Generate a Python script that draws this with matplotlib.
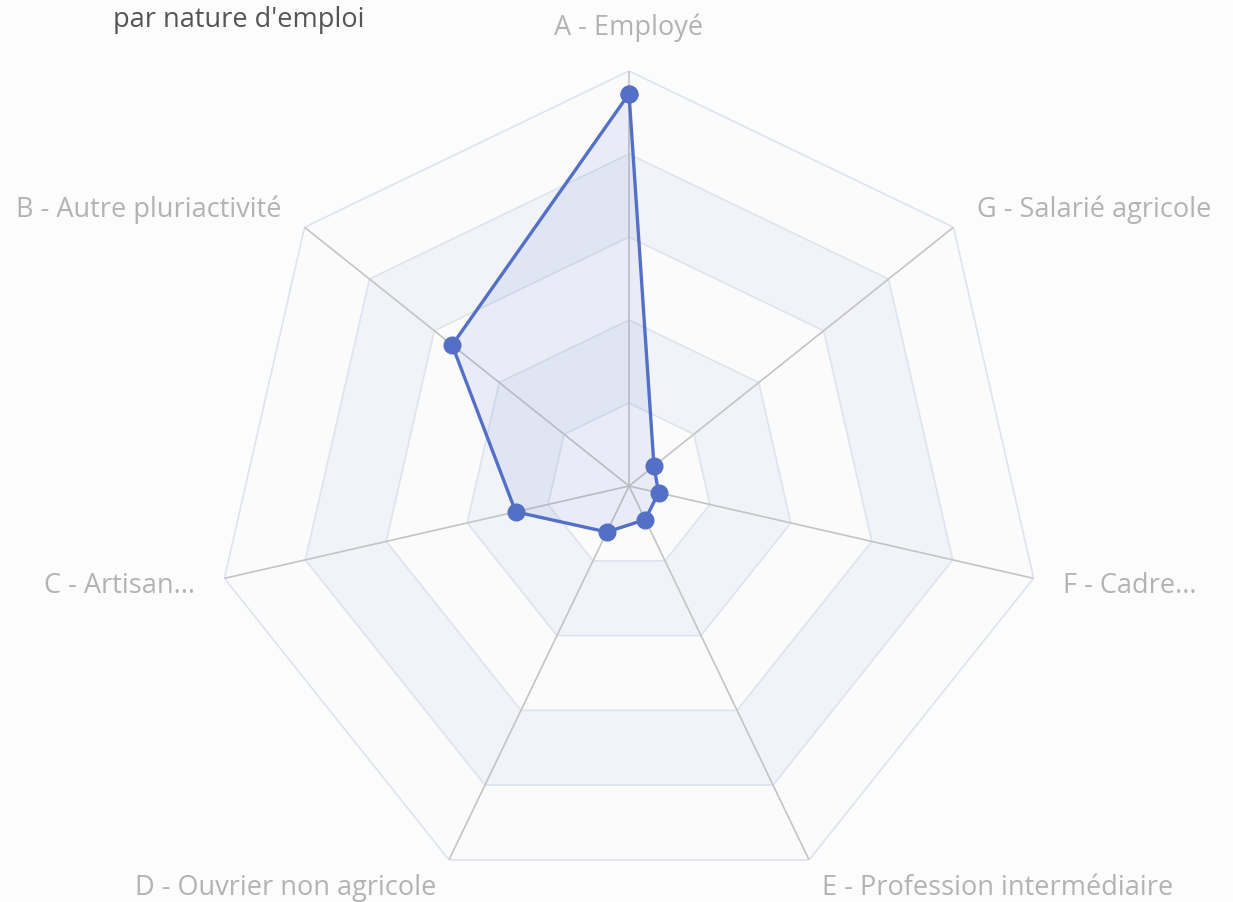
import numpy as np
import matplotlib
matplotlib.use("Agg")
import matplotlib.pyplot as plt

plt.rcParams['font.family'] = ['Open Sans', 'DejaVu Sans']

categories = ["A - Employé", "B - Autre pluriactivité", "C - Artisan...",
              "D - Ouvrier non agricole", "E - Profession intermédiaire",
              "F - Cadre...", "G - Salarié agricole"]
values = [94.5, 54.5, 28.0, 12.3, 9.0, 7.3, 7.7]
max_value = 100
n_split = 5

title = "par nature d'emploi"

series_color = "#5470c6"
split_color = "#dde3ef"
axis_color = "#c4c4c4"
label_color = "#b3b3b3"
band_colors = ["#fbfbfc", "#f1f3f9"]
bg = "#fcfcfd"

fig = plt.figure(figsize=(12.33, 9.03), dpi=100, facecolor=bg)
cx, cy, R = 629, 487, 415
W, H = 1233, 903
ax = fig.add_axes([(cx - R) / W, (H - cy - R) / H, 2 * R / W, 2 * R / H],
                  projection="polar")
ax.set_facecolor("none")
ax.set_theta_offset(np.pi / 2)
ax.set_ylim(0, max_value)
ax.spines["polar"].set_visible(False)
ax.grid(False)
ax.set_xticks([])
ax.set_yticks([])

n = len(categories)
angles = np.arange(n) * 2 * np.pi / n
closed = np.append(angles, angles[0])

# split areas, outer first so inner ones paint on top
for k in range(n_split, 0, -1):
    r = max_value * k / n_split
    ax.fill(closed, [r] * (n + 1), color=band_colors[(k - 1) % 2], zorder=1, lw=0)
for k in range(1, n_split + 1):
    r = max_value * k / n_split
    ax.plot(closed, [r] * (n + 1), color=split_color, lw=1.2, zorder=2)

# axis lines
for a in angles:
    ax.plot([a, a], [0, max_value], color=axis_color, lw=1.2, zorder=3)

# series
vals = values + values[:1]
ax.fill(closed, vals, color=series_color, alpha=0.1, zorder=4, lw=0)
ax.plot(closed, vals, color=series_color, lw=2.4, zorder=5,
        marker="o", markersize=12, solid_joinstyle="round")

# axis names
lab_r = max_value * (1 + 30 / R)
for a, name in zip(angles, categories):
    s = -np.sin(a)
    if abs(s) < 1e-6:
        ha = "center"
    elif s > 0:
        ha = "left"
    else:
        ha = "right"
    va = "bottom" if abs(s) < 1e-6 else "center"
    ax.text(a, lab_r, name, ha=ha, va=va, fontsize=19.5, color=label_color,
            clip_on=False)

fig.text(113 / W, 1 - 20 / H, title, ha="left", va="center",
         fontsize=19.5, color="#555555")

fig.savefig("out.png", dpi=100, facecolor=bg)
